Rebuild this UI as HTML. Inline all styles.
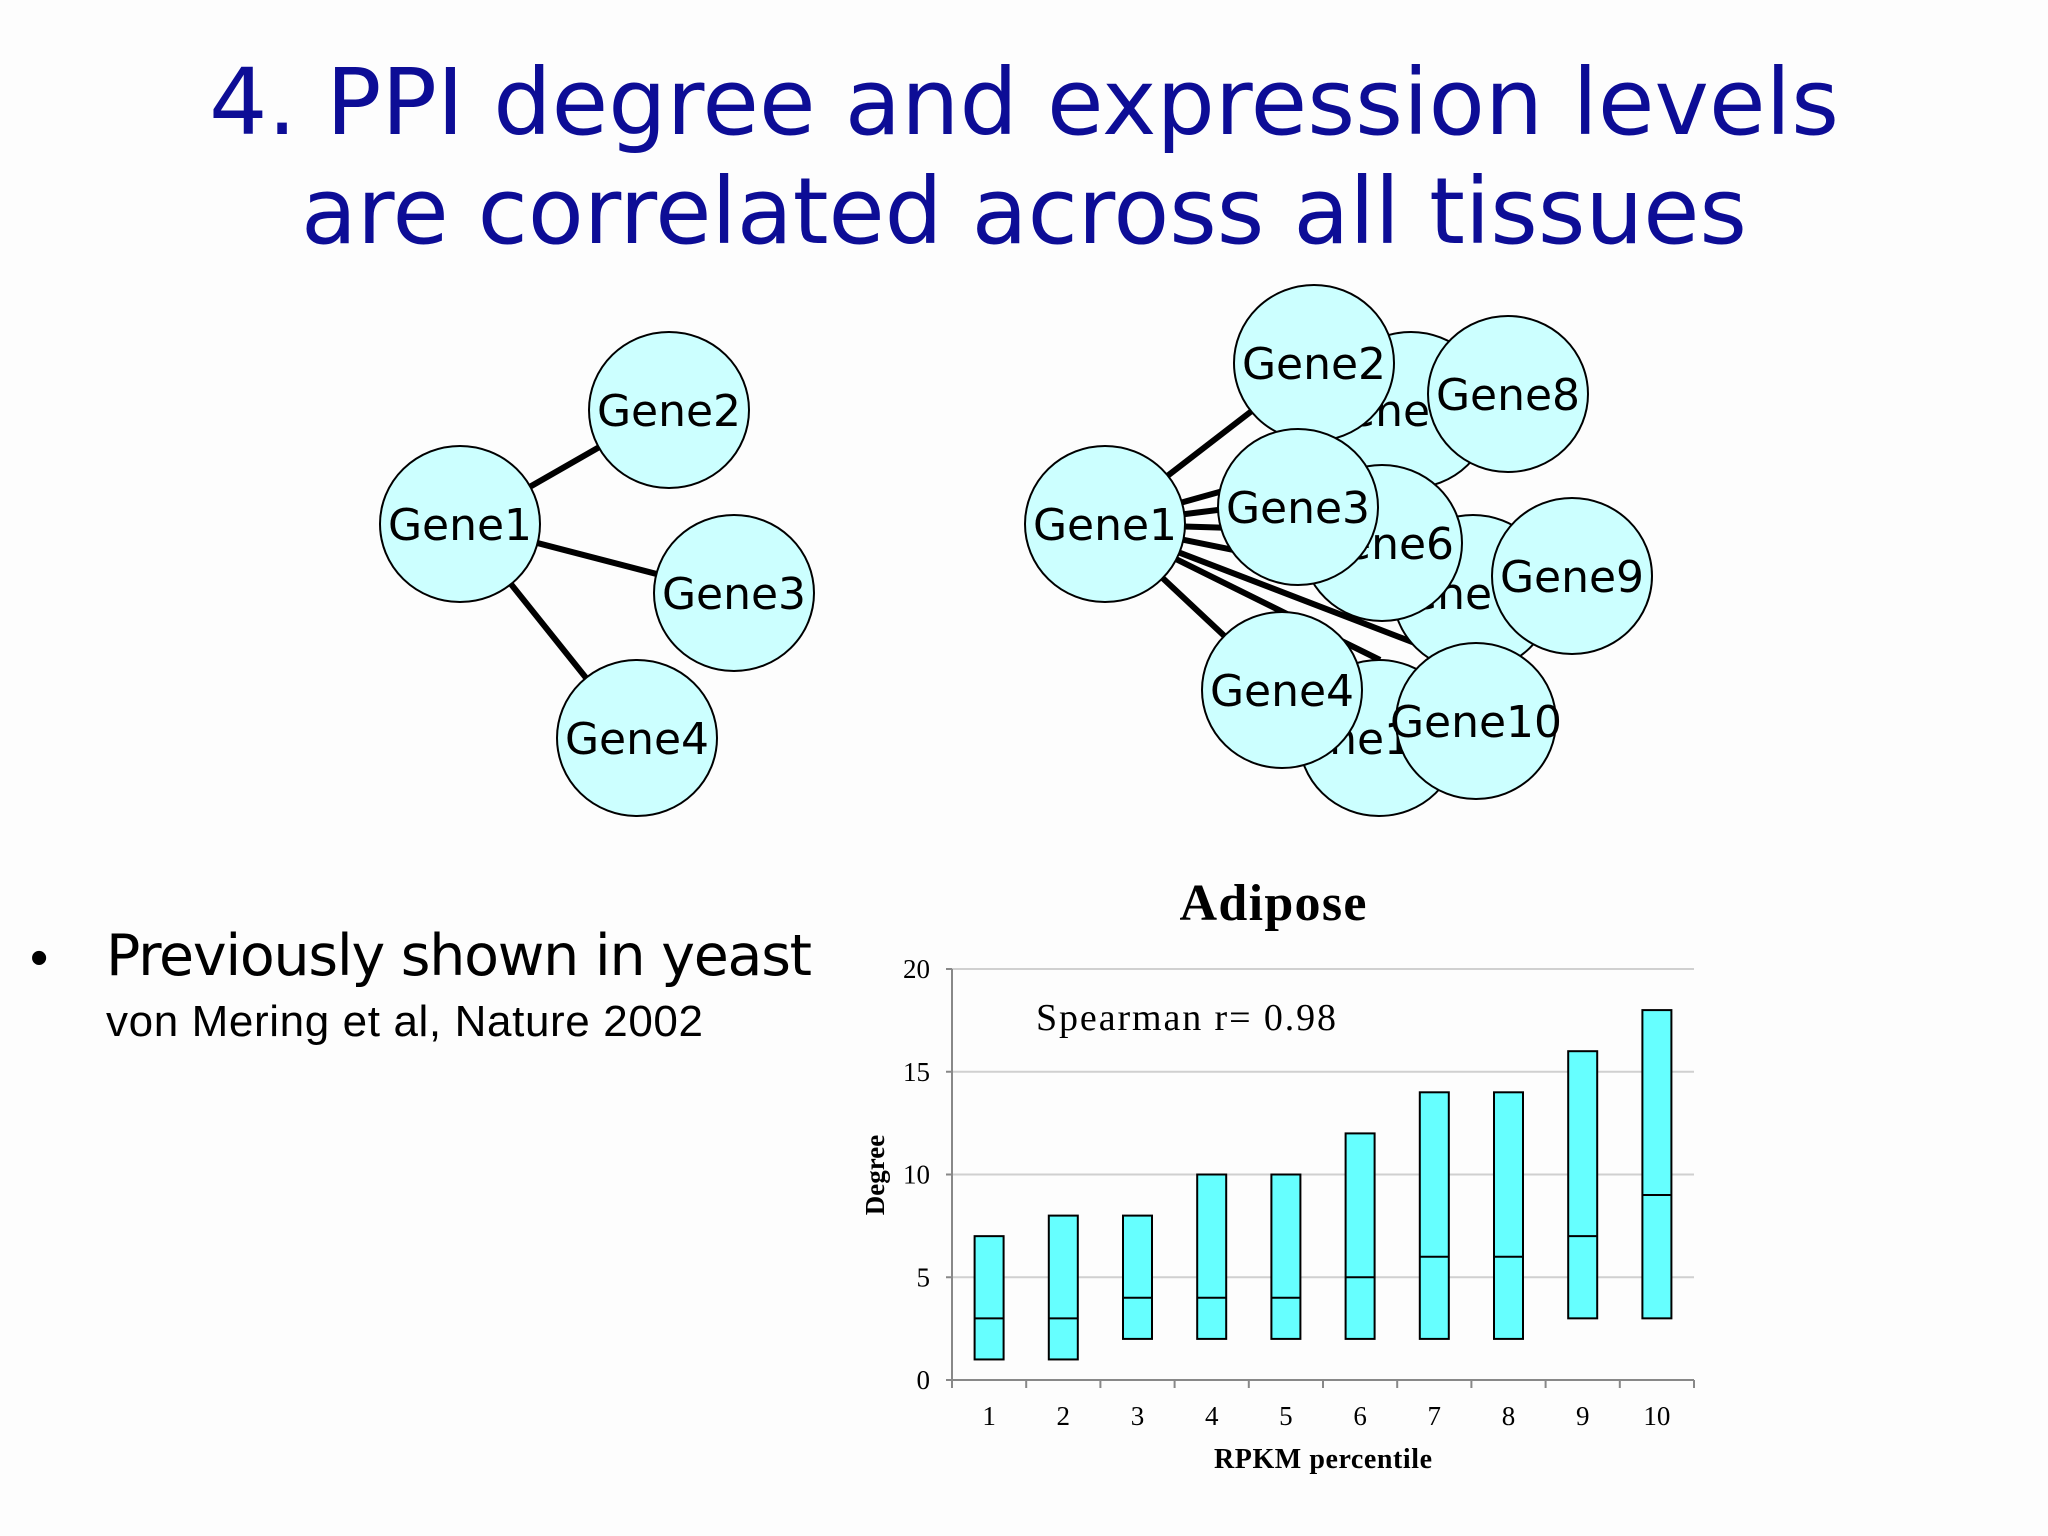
<!DOCTYPE html>
<html><head><meta charset="utf-8"><style>
body{margin:0;background:#fdfdfd;}
svg{display:block;}
</style></head><body>
<svg id="s" width="2048" height="1536" viewBox="0 0 2048 1536" xmlns="http://www.w3.org/2000/svg">
<rect width="2048" height="1536" fill="#fdfdfd"/>
<g font-family="'DejaVu Sans', 'Liberation Sans', sans-serif" font-size="92" fill="#0d0d96" text-anchor="middle">
<text x="1024" y="134" textLength="1630" lengthAdjust="spacingAndGlyphs">4. PPI degree and expression levels</text>
<text x="1024" y="243" textLength="1446" lengthAdjust="spacingAndGlyphs">are correlated across all tissues</text>
</g>
<g id="netL"></g>
<g id="netR"></g>
<g font-family="'Liberation Sans', sans-serif" fill="#000">
<text x="30" y="975" font-size="52">•</text>
<text x="106" y="975" font-size="57" font-family="'DejaVu Sans', 'Liberation Sans', sans-serif" textLength="706">Previously shown in yeast</text>
<text x="106" y="1036" font-size="44" textLength="597">von Mering et al, Nature 2002</text>
</g>
<g id="chart" font-family="'Liberation Serif', serif"></g>
</svg>
<script>
const categories = ['1','2','3','4','5','6','7','8','9','10'];
const lows = [1,1,2,2,2,2,2,2,3,3];
const medians = [3,3,4,4,4,5,6,6,7,9];
const highs = [7,8,8,10,10,12,14,14,16,18];
const yTicks = [0,5,10,15,20];

const NS='http://www.w3.org/2000/svg';
function mk(tag,attrs,parent,txt){const e=document.createElementNS(NS,tag);for(const k in attrs)e.setAttribute(k,attrs[k]);if(txt!==undefined)e.textContent=txt;parent.appendChild(e);return e;}

const ch=document.getElementById('chart');
const X0=952,X1=1694,Y0=1380,Y20=969;
const y=v=>Y0+(Y20-Y0)*v/20;
const step=(X1-X0)/categories.length;
const xc=i=>X0+step*(i+0.5);
const bw=29;
yTicks.forEach(t=>{
  if(t>0){const g=mk('line',{x1:X0,x2:X1,y1:y(t),y2:y(t),stroke:'#d0d0d0','stroke-width':2},ch);
  
  }
  const tk=mk('line',{x1:X0-6,x2:X0,y1:y(t),y2:y(t),stroke:'#888','stroke-width':2},ch);
  
  
  const l=mk('text',{x:X0-22,y:y(t)+9,'font-size':27,'text-anchor':'end'},ch,t);
  
  
});
const ax=mk('path',{d:`M${X0} ${Y20} V${Y0} H${X1}`,stroke:'#888','stroke-width':2,fill:'none'},ch);


for(let i=0;i<=categories.length;i++){
  const t=mk('line',{x1:X0+step*i,x2:X0+step*i,y1:Y0,y2:Y0+8,stroke:'#888','stroke-width':2},ch);
  
  
}
categories.forEach((c,i)=>{
  const b=mk('rect',{x:xc(i)-bw/2,y:y(highs[i]),width:bw,height:y(lows[i])-y(highs[i]),fill:'#66ffff',stroke:'#000','stroke-width':2},ch);
  
  
  const m=mk('line',{x1:xc(i)-bw/2,x2:xc(i)+bw/2,y1:y(medians[i]),y2:y(medians[i]),stroke:'#000','stroke-width':2},ch);
  
  
  const l=mk('text',{x:xc(i),y:Y0+45,'font-size':27,'text-anchor':'middle'},ch,c);
  
  
});
let e;
e=mk('text',{x:1273,y:920,'font-size':52,'font-weight':'bold','text-anchor':'middle',textLength:187},ch,'Adipose');


e=mk('text',{x:1036,y:1030,'font-size':38,textLength:300},ch,'Spearman r= 0.98');


e=mk('text',{x:1323,y:1468,'font-size':28,'font-weight':'bold','text-anchor':'middle',textLength:218},ch,'RPKM percentile');


e=mk('text',{x:0,y:0,'font-size':27,'font-weight':'bold','text-anchor':'middle',transform:'translate(884,1175) rotate(-90)'},ch,'Degree');



function node(parent,cx,cy,label,anchorShift){
  const g=mk('g',{},parent);
  
  
  mk('ellipse',{cx:cx,cy:cy,rx:80,ry:78,fill:'#ccffff',stroke:'#000','stroke-width':2},g);
  mk('text',{x:cx+(anchorShift||0),y:cy+16,'font-size':44,'text-anchor':'middle','font-family':"'DejaVu Sans', 'Liberation Sans', sans-serif"},g,label);
}
function edge(parent,a,b,name){
  const l=mk('line',{x1:a[0],y1:a[1],x2:b[0],y2:b[1],stroke:'#000','stroke-width':6},parent);
  
  
}
const L=document.getElementById('netL');
const l1=[460,524];
[[669,410],[734,593],[637,738]].forEach((p,i)=>{
  const dx=p[0]-l1[0],dy=p[1]-l1[1],d=Math.hypot(dx,dy);
  edge(L,[l1[0]+dx/d*80,l1[1]+dy/d*78],[p[0]-dx/d*80,p[1]-dy/d*78],'edge-gene1-gene'+(i+2));
});
node(L,460,524,'Gene1');node(L,669,410,'Gene2');node(L,734,593,'Gene3');node(L,637,738,'Gene4');

const R=document.getElementById('netR');
const r1=[1105,524];
[[1314,363],[1298,470],[1298,500],[1298,530],[1382,580],[1420,645],[1380,660],[1282,690]].forEach((p,i)=>{
  const dx=p[0]-r1[0],dy=p[1]-r1[1],d=Math.hypot(dx,dy);
  edge(R,[r1[0]+dx/d*75,r1[1]+dy/d*75],p,'edge-hub-'+(i+1));
});
node(R,1411,410,'Gene5',-25);
node(R,1473,593,'Gene7',-25);
node(R,1379,738,'Gene11',-25);
node(R,1382,543,'Gene6');
node(R,1314,363,'Gene2');
node(R,1508,394,'Gene8');
node(R,1298,507,'Gene3');
node(R,1572,576,'Gene9');
node(R,1282,690,'Gene4');
node(R,1476,721,'Gene10');
node(R,1105,524,'Gene1');
</script>
</body></html>
